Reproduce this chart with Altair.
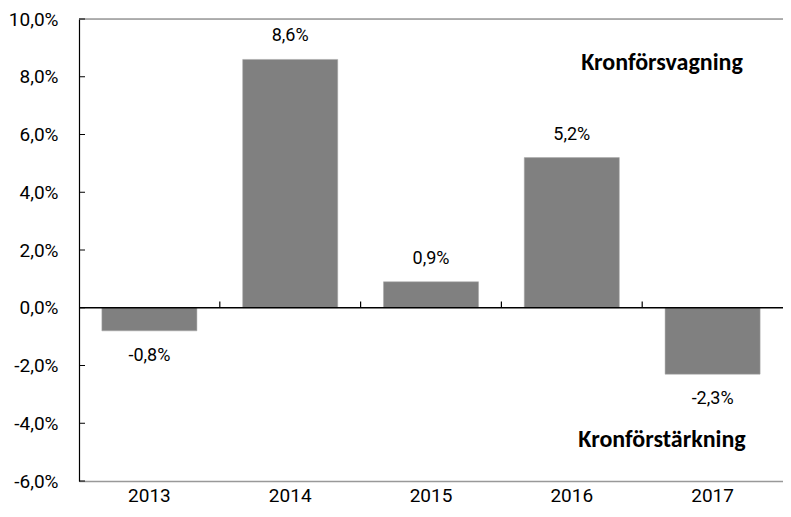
import altair as alt
import pandas as pd

years = ["2013", "2014", "2015", "2016", "2017"]
values = [-0.8, 8.6, 0.9, 5.2, -2.3]
y_ticks = [-6, -4, -2, 0, 2, 4, 6, 8, 10]
boundary_years = ["2013", "2014", "2015", "2016"]
notes = ["Kronförsvagning", "Kronförstärkning"]
note_y = [8.48, -4.57]

df = pd.DataFrame({"year": years, "value": values})
df["label"] = [("-" if v < 0 else "") + f"{abs(v):.1f}".replace(".", ",") + "%" for v in values]
ticks_df = pd.DataFrame({"v": y_ticks})
bound_df = pd.DataFrame({"year": boundary_years})
notes_df = pd.DataFrame({"note": notes, "y": note_y})

FONT = "Roboto"
BOLD = "Carlito"

xscale = alt.Scale(domain=years, paddingInner=0, paddingOuter=0)
yscale = alt.Scale(domain=[-6, 10], nice=False, zero=False)

label_expr = "(datum.value < 0 ? '-' : '') + replace(format(abs(datum.value), '.1f'), '.', ',') + '%'"

base = alt.Chart(df)

bars = base.mark_bar(color="#808080", stroke="#a6a6a6", strokeWidth=0.5,
                     width=alt.RelativeBandSize(0.675)).encode(
    x=alt.X("year:N", scale=xscale, sort=years,
            axis=alt.Axis(title=None, labelAngle=0, ticks=False, domainColor="#999999",
                          domainWidth=1.5, labelFont=FONT, labelFontSize=19,
                          labelColor="#000000", labelPadding=5)),
    y=alt.Y("value:Q", scale=yscale,
            axis=alt.Axis(title=None, values=y_ticks, grid=False, ticks=False,
                          domainColor="#000000", domainWidth=1.2, labelExpr=label_expr,
                          labelFont=FONT, labelFontSize=19, labelColor="#000000",
                          labelPadding=21)),
)

pos_labels = base.transform_filter("datum.value >= 0").mark_text(
    baseline="middle", dy=-23, font=FONT, fontSize=18, color="#000000"
).encode(x=alt.X("year:N", scale=xscale, sort=years), y="value:Q", text="label:N")

neg_labels = base.transform_filter("datum.value < 0").mark_text(
    baseline="middle", dy=25, font=FONT, fontSize=18, color="#000000"
).encode(x=alt.X("year:N", scale=xscale, sort=years), y="value:Q", text="label:N")

zero_rule = alt.Chart(pd.DataFrame({"z": [0]})).mark_rule(color="#000000", strokeWidth=1.5).encode(y="z:Q")
top_rule = alt.Chart(pd.DataFrame({"t": [10]})).mark_rule(color="#999999", strokeWidth=1.5).encode(y="t:Q")

ytick_marks = alt.Chart(ticks_df).mark_rule(color="#000000", strokeWidth=1).encode(
    y="v:Q", x=alt.value(0), x2=alt.value(6)
)

bound_ticks = alt.Chart(bound_df).mark_rule(color="#000000", strokeWidth=1.2).encode(
    x=alt.X("year:N", scale=xscale, sort=years, bandPosition=1),
    y=alt.datum(0), y2=alt.datum(0.22)
)

note_text = alt.Chart(notes_df).mark_text(
    font=BOLD, fontWeight="bold", fontSize=24, color="#000000", align="center", baseline="middle"
).encode(x=alt.value(583), y="y:Q", text="note:N")

chart = alt.layer(
    bars, zero_rule, top_rule, ytick_marks, bound_ticks, pos_labels, neg_labels, note_text
).properties(
    width=704, height=462,
    autosize=alt.AutoSizeParams(type="none"),
    padding={"left": 71, "top": 11, "right": 0, "bottom": 24},
).configure_view(stroke=None).configure(background="white")

chart.save("out.html", embed_options={"renderer": "svg", "actions": False})
